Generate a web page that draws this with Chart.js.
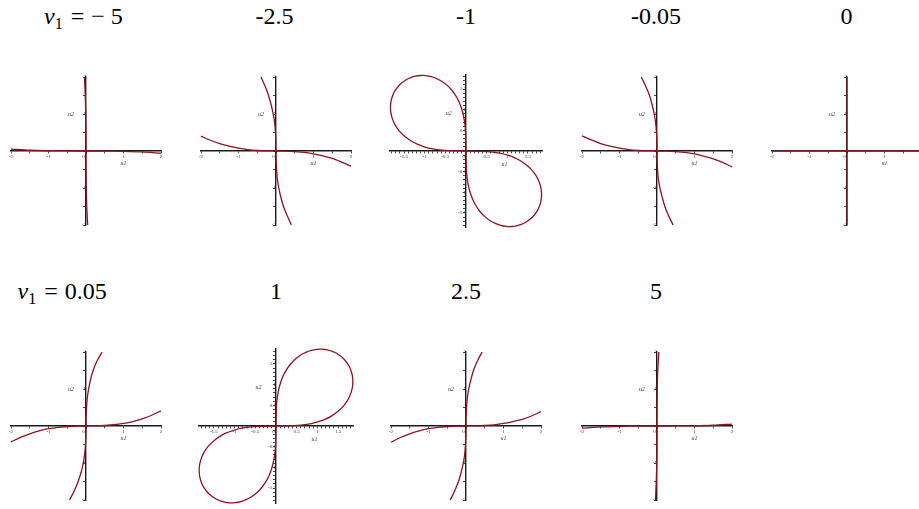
<!DOCTYPE html>
<html>
<head>
<meta charset="utf-8">
<script src="https://cdn.jsdelivr.net/npm/chart.js@4.4.0/dist/chart.umd.min.js"></script>
<style>
  html, body { margin: 0; padding: 0; background: #fff; overflow: hidden; }
  body { width: 919px; height: 509px; position: relative; }
  .title {
    position: absolute;
    font-family: "Liberation Serif", "Times New Roman", serif;
    font-size: 24px;
    line-height: 1;
    color: #000;
    white-space: nowrap;
  }
  .title i { font-style: italic; }
  .title sub { font-size: 16px; vertical-align: baseline; position: relative; top: 5px; }
  .title .rel { margin: 0 7px 0 8px; }
  .title .neg { margin-right: 6px; }
  canvas { position: absolute; }
</style>
</head>
<body>
<script>
// parameter value shown above each panel
const v1Values = ['−5', '-2.5', '-1', '-0.05', '0', '0.05', '1', '2.5', '5'];

// solution branches in the (u1, u2) plane, one list of [u1, u2] per branch
const m5Horizontal = [[-2, 0.05], [-1.5, 0.02], [-1, 0.007], [-0.5, 0.001], [0, 0], [0.5, -0.001], [1, -0.008], [1.5, -0.025], [2, -0.06]];
const m5Vertical = [[-0.04, 2], [-0.02, 1.5], [-0.006, 1], [-0.001, 0.5], [0, 0], [0.001, -0.5], [0.007, -1], [0.02, -1.5], [0.045, -2]];

const m25Horizontal = [[-2, 0.40], [-1.75, 0.29], [-1.5, 0.2], [-1.25, 0.13], [-1, 0.075], [-0.75, 0.035], [-0.5, 0.014], [-0.25, 0.003], [0, 0], [0.25, -0.003], [0.5, -0.015], [0.75, -0.035], [1, -0.075], [1.25, -0.13], [1.5, -0.2], [1.75, -0.3], [2, -0.41]];
const m25Vertical = [[-0.40, 2], [-0.29, 1.75], [-0.2, 1.5], [-0.13, 1.25], [-0.075, 1], [-0.035, 0.75], [-0.014, 0.5], [-0.003, 0.25], [0, 0], [0.003, -0.25], [0.015, -0.5], [0.035, -0.75], [0.075, -1], [0.13, -1.25], [0.2, -1.5], [0.3, -1.75], [0.41, -2]];

const m1LoopUpper = [[0, 0], [-0.007, 0.42], [-0.021, 0.6], [-0.059, 0.844], [-0.108, 1.03], [-0.166, 1.18], [-0.23, 1.307], [-0.338, 1.464], [-0.456, 1.589], [-0.58, 1.684], [-0.709, 1.754], [-0.84, 1.8], [-0.97, 1.825], [-1.099, 1.828], [-1.222, 1.812], [-1.339, 1.777], [-1.448, 1.726], [-1.605, 1.605], [-1.726, 1.448], [-1.777, 1.339], [-1.812, 1.222], [-1.828, 1.099], [-1.825, 0.97], [-1.8, 0.84], [-1.754, 0.709], [-1.684, 0.58], [-1.589, 0.456], [-1.464, 0.338], [-1.307, 0.23], [-1.18, 0.166], [-1.03, 0.108], [-0.844, 0.059], [-0.6, 0.021], [-0.42, 0.007], [0, 0]];
const m1LoopLower = [[0, 0], [0.007, -0.42], [0.021, -0.6], [0.059, -0.844], [0.108, -1.03], [0.166, -1.18], [0.23, -1.307], [0.338, -1.464], [0.456, -1.589], [0.58, -1.684], [0.709, -1.754], [0.84, -1.8], [0.97, -1.825], [1.099, -1.828], [1.222, -1.812], [1.339, -1.777], [1.448, -1.726], [1.605, -1.605], [1.726, -1.448], [1.777, -1.339], [1.812, -1.222], [1.828, -1.099], [1.825, -0.97], [1.8, -0.84], [1.754, -0.709], [1.684, -0.58], [1.589, -0.456], [1.464, -0.338], [1.307, -0.23], [1.18, -0.166], [1.03, -0.108], [0.844, -0.059], [0.6, -0.021], [0.42, -0.007], [0, 0]];

const m005Horizontal = [[-2, 0.41], [-1.75, 0.3], [-1.5, 0.2], [-1.25, 0.13], [-1, 0.075], [-0.75, 0.035], [-0.5, 0.014], [-0.25, 0.003], [0, 0], [0.25, -0.003], [0.5, -0.015], [0.75, -0.036], [1, -0.078], [1.25, -0.14], [1.5, -0.21], [1.75, -0.31], [2, -0.43]];
const m005Vertical = [[-0.42, 2], [-0.3, 1.75], [-0.2, 1.5], [-0.13, 1.25], [-0.075, 1], [-0.035, 0.75], [-0.014, 0.5], [-0.003, 0.25], [0, 0], [0.003, -0.25], [0.015, -0.5], [0.036, -0.75], [0.078, -1], [0.14, -1.25], [0.21, -1.5], [0.31, -1.75], [0.43, -2]];

const zeroHorizontal = [[-2, 0], [2, 0]];
const zeroVertical = [[0, -2], [0, 2]];

const p005Horizontal = [[-2, -0.43], [-1.75, -0.31], [-1.5, -0.21], [-1.25, -0.13], [-1, -0.072], [-0.75, -0.035], [-0.5, -0.014], [-0.25, -0.003], [0, 0], [0.25, 0.003], [0.5, 0.014], [0.75, 0.034], [1, 0.07], [1.25, 0.12], [1.5, 0.19], [1.75, 0.29], [2, 0.41]];
const p005Vertical = [[-0.44, -2], [-0.31, -1.75], [-0.21, -1.5], [-0.13, -1.25], [-0.072, -1], [-0.035, -0.75], [-0.014, -0.5], [-0.003, -0.25], [0, 0], [0.003, 0.25], [0.014, 0.5], [0.034, 0.75], [0.07, 1], [0.12, 1.25], [0.19, 1.5], [0.29, 1.75], [0.43, 2]];

const p1LoopUpper = [[0, 0], [0.008, 0.43], [0.021, 0.61], [0.06, 0.857], [0.11, 1.045], [0.168, 1.2], [0.233, 1.327], [0.343, 1.486], [0.463, 1.613], [0.589, 1.709], [0.72, 1.78], [0.853, 1.827], [0.985, 1.852], [1.115, 1.855], [1.24, 1.839], [1.359, 1.804], [1.47, 1.752], [1.629, 1.629], [1.752, 1.47], [1.804, 1.359], [1.839, 1.24], [1.855, 1.115], [1.852, 0.985], [1.827, 0.853], [1.78, 0.72], [1.709, 0.589], [1.613, 0.463], [1.486, 0.343], [1.327, 0.233], [1.2, 0.168], [1.045, 0.11], [0.857, 0.06], [0.61, 0.021], [0.43, 0.008], [0, 0]];
const p1LoopLower = [[0, 0], [-0.008, -0.43], [-0.021, -0.61], [-0.06, -0.857], [-0.11, -1.045], [-0.168, -1.2], [-0.233, -1.327], [-0.343, -1.486], [-0.463, -1.613], [-0.589, -1.709], [-0.72, -1.78], [-0.853, -1.827], [-0.985, -1.852], [-1.115, -1.855], [-1.24, -1.839], [-1.359, -1.804], [-1.47, -1.752], [-1.629, -1.629], [-1.752, -1.47], [-1.804, -1.359], [-1.839, -1.24], [-1.855, -1.115], [-1.852, -0.985], [-1.827, -0.853], [-1.78, -0.72], [-1.709, -0.589], [-1.613, -0.463], [-1.486, -0.343], [-1.327, -0.233], [-1.2, -0.168], [-1.045, -0.11], [-0.857, -0.06], [-0.61, -0.021], [-0.43, -0.008], [0, 0]];

const p25Horizontal = [[-2, -0.44], [-1.75, -0.31], [-1.5, -0.21], [-1.25, -0.13], [-1, -0.072], [-0.75, -0.035], [-0.5, -0.014], [-0.25, -0.003], [0, 0], [0.25, 0.003], [0.5, 0.014], [0.75, 0.033], [1, 0.068], [1.25, 0.12], [1.5, 0.18], [1.75, 0.27], [2, 0.39]];
const p25Vertical = [[-0.42, -2], [-0.3, -1.75], [-0.2, -1.5], [-0.13, -1.25], [-0.07, -1], [-0.034, -0.75], [-0.014, -0.5], [-0.003, -0.25], [0, 0], [0.003, 0.25], [0.014, 0.5], [0.035, 0.75], [0.072, 1], [0.13, 1.25], [0.2, 1.5], [0.3, 1.75], [0.43, 2]];

const p5Horizontal = [[-2, -0.06], [-1.5, -0.025], [-1, -0.008], [-0.5, -0.001], [0, 0], [0.5, 0.001], [1, 0.006], [1.5, 0.02], [2, 0.05]];
const p5Vertical = [[-0.04, -2], [-0.02, -1.5], [-0.006, -1], [-0.001, -0.5], [0, 0], [0.001, 0.5], [0.007, 1], [0.02, 1.5], [0.05, 2]];

// axis extents and tick spacing per panel
const axisLimits = [2, 2, 1.84, 2, 2, 2, 1.86, 2, 2];
const minorSteps = [0.5, 0.5, 0.1, 0.5, 0.5, 0.5, 0.1, 0.5, 0.5];
const labelSteps = [1, 1, 0.5, 1, 1, 1, 0.5, 1, 1];

const branches = [
  [m5Horizontal, m5Vertical],
  [m25Horizontal, m25Vertical],
  [m1LoopUpper, m1LoopLower],
  [m005Horizontal, m005Vertical],
  [zeroHorizontal, zeroVertical],
  [p005Horizontal, p005Vertical],
  [p1LoopUpper, p1LoopLower],
  [p25Horizontal, p25Vertical],
  [p5Horizontal, p5Vertical]
];

// plot area placement on the page: centre of the axes and size in px
const frames = [
  {cx: 85.7, cy: 150.7, w: 150, h: 148},
  {cx: 276, cy: 150.7, w: 150, h: 148},
  {cx: 466, cy: 150.7, w: 152, h: 152},
  {cx: 657.2, cy: 150.7, w: 150, h: 148},
  {cx: 847.3, cy: 150.7, w: 150, h: 148},
  {cx: 85.7, cy: 425.7, w: 150, h: 148},
  {cx: 275.7, cy: 425.7, w: 154, h: 154},
  {cx: 466.3, cy: 425.7, w: 150, h: 148},
  {cx: 657.3, cy: 425.7, w: 150, h: 148}
];

// where the panel headings sit (centre x, baseline y)
const titleSpots = [
  {x: 83.5, y: 25}, {x: 274.5, y: 25}, {x: 466, y: 25}, {x: 656, y: 25}, {x: 846.5, y: 25},
  {x: 62, y: 300}, {x: 276, y: 300}, {x: 466, y: 300}, {x: 656, y: 300}
];

const PAD = 16;
const CURVE_COLOR = '#8c1420';
const AXIS_COLOR = '#1a1a1a';
const TICK_FONT = {family: "'Liberation Serif', serif", size: 5};

// u1 / u2 names and the origin "0" drawn next to the axes
const axisNames = {
  id: 'axisNames',
  afterDraw(chart, args, opts) {
    const {ctx, scales: {x, y}} = chart;
    ctx.save();
    ctx.fillStyle = '#333';
    ctx.textAlign = 'center';
    ctx.textBaseline = 'middle';
    ctx.font = "italic 6px 'Liberation Serif', serif";
    ctx.fillText('u1', x.getPixelForValue(opts.u1[0]), y.getPixelForValue(opts.u1[1]));
    ctx.fillText('u2', x.getPixelForValue(opts.u2[0]), y.getPixelForValue(opts.u2[1]));
    ctx.font = "5px 'Liberation Serif', serif";
    ctx.fillText('0', x.getPixelForValue(0) - 2.5, y.getPixelForValue(0) + 6);
    ctx.restore();
  }
};

function onStep(v, step) {
  const q = v / step;
  return Math.abs(q - Math.round(q)) < 1e-6;
}

function axisOptions(lim, minor, major, where) {
  return {
    type: 'linear',
    position: where,
    min: -lim,
    max: lim,
    grid: {display: true, drawOnChartArea: false, drawTicks: true, tickLength: 2, color: AXIS_COLOR, lineWidth: 0.8},
    border: {display: true, color: AXIS_COLOR, width: 1.4},
    ticks: {
      stepSize: minor,
      includeBounds: false,
      autoSkip: false,
      maxRotation: 0,
      padding: 1,
      color: '#333',
      font: TICK_FONT,
      callback: (v) => (Math.abs(v) > 1e-9 && onStep(v, major)) ? String(Math.round(v * 10) / 10) : ''
    }
  };
}

function addTitle(i) {
  const div = document.createElement('div');
  div.className = 'title';
  if (i === 0 || i === 5) {
    const val = v1Values[i].replace('−', '<span class="neg">−</span>');
    div.innerHTML = '<i>v</i><sub>1</sub><span class="rel">=</span>' + val;
  } else {
    div.textContent = v1Values[i];
  }
  document.body.appendChild(div);
  const w = div.offsetWidth;
  div.style.left = (titleSpots[i].x - w / 2) + 'px';
  div.style.top = (titleSpots[i].y - 21.4) + 'px';
}

frames.forEach((f, i) => {
  addTitle(i);

  const canvas = document.createElement('canvas');
  canvas.width = f.w + 2 * PAD;
  canvas.height = f.h + 2 * PAD;
  canvas.style.left = (f.cx - f.w / 2 - PAD) + 'px';
  canvas.style.top = (f.cy - f.h / 2 - PAD) + 'px';
  document.body.appendChild(canvas);

  const lim = axisLimits[i];
  const nameAt = lim < 2
    ? {u1: [0.93, -0.32], u2: [-0.42, 0.92]}
    : {u1: [1, -0.34], u2: [-0.4, 0.99]};

  new Chart(canvas.getContext('2d'), {
    type: 'scatter',
    data: {
      datasets: branches[i].map(pts => ({
        data: pts.map(([x, y]) => ({x, y})),
        showLine: true,
        borderColor: CURVE_COLOR,
        borderWidth: 1.3,
        pointRadius: 0,
        tension: 0.3,
        clip: false
      }))
    },
    options: {
      responsive: false,
      animation: false,
      devicePixelRatio: 1,
      layout: {padding: PAD},
      elements: {line: {capBezierPoints: false}},
      plugins: {
        legend: {display: false},
        tooltip: {enabled: false},
        axisNames: nameAt
      },
      scales: {
        x: axisOptions(lim, minorSteps[i], labelSteps[i], {y: 0}),
        y: axisOptions(lim, minorSteps[i], labelSteps[i], {x: 0})
      }
    },
    plugins: [axisNames]
  });
});
</script>
</body>
</html>
